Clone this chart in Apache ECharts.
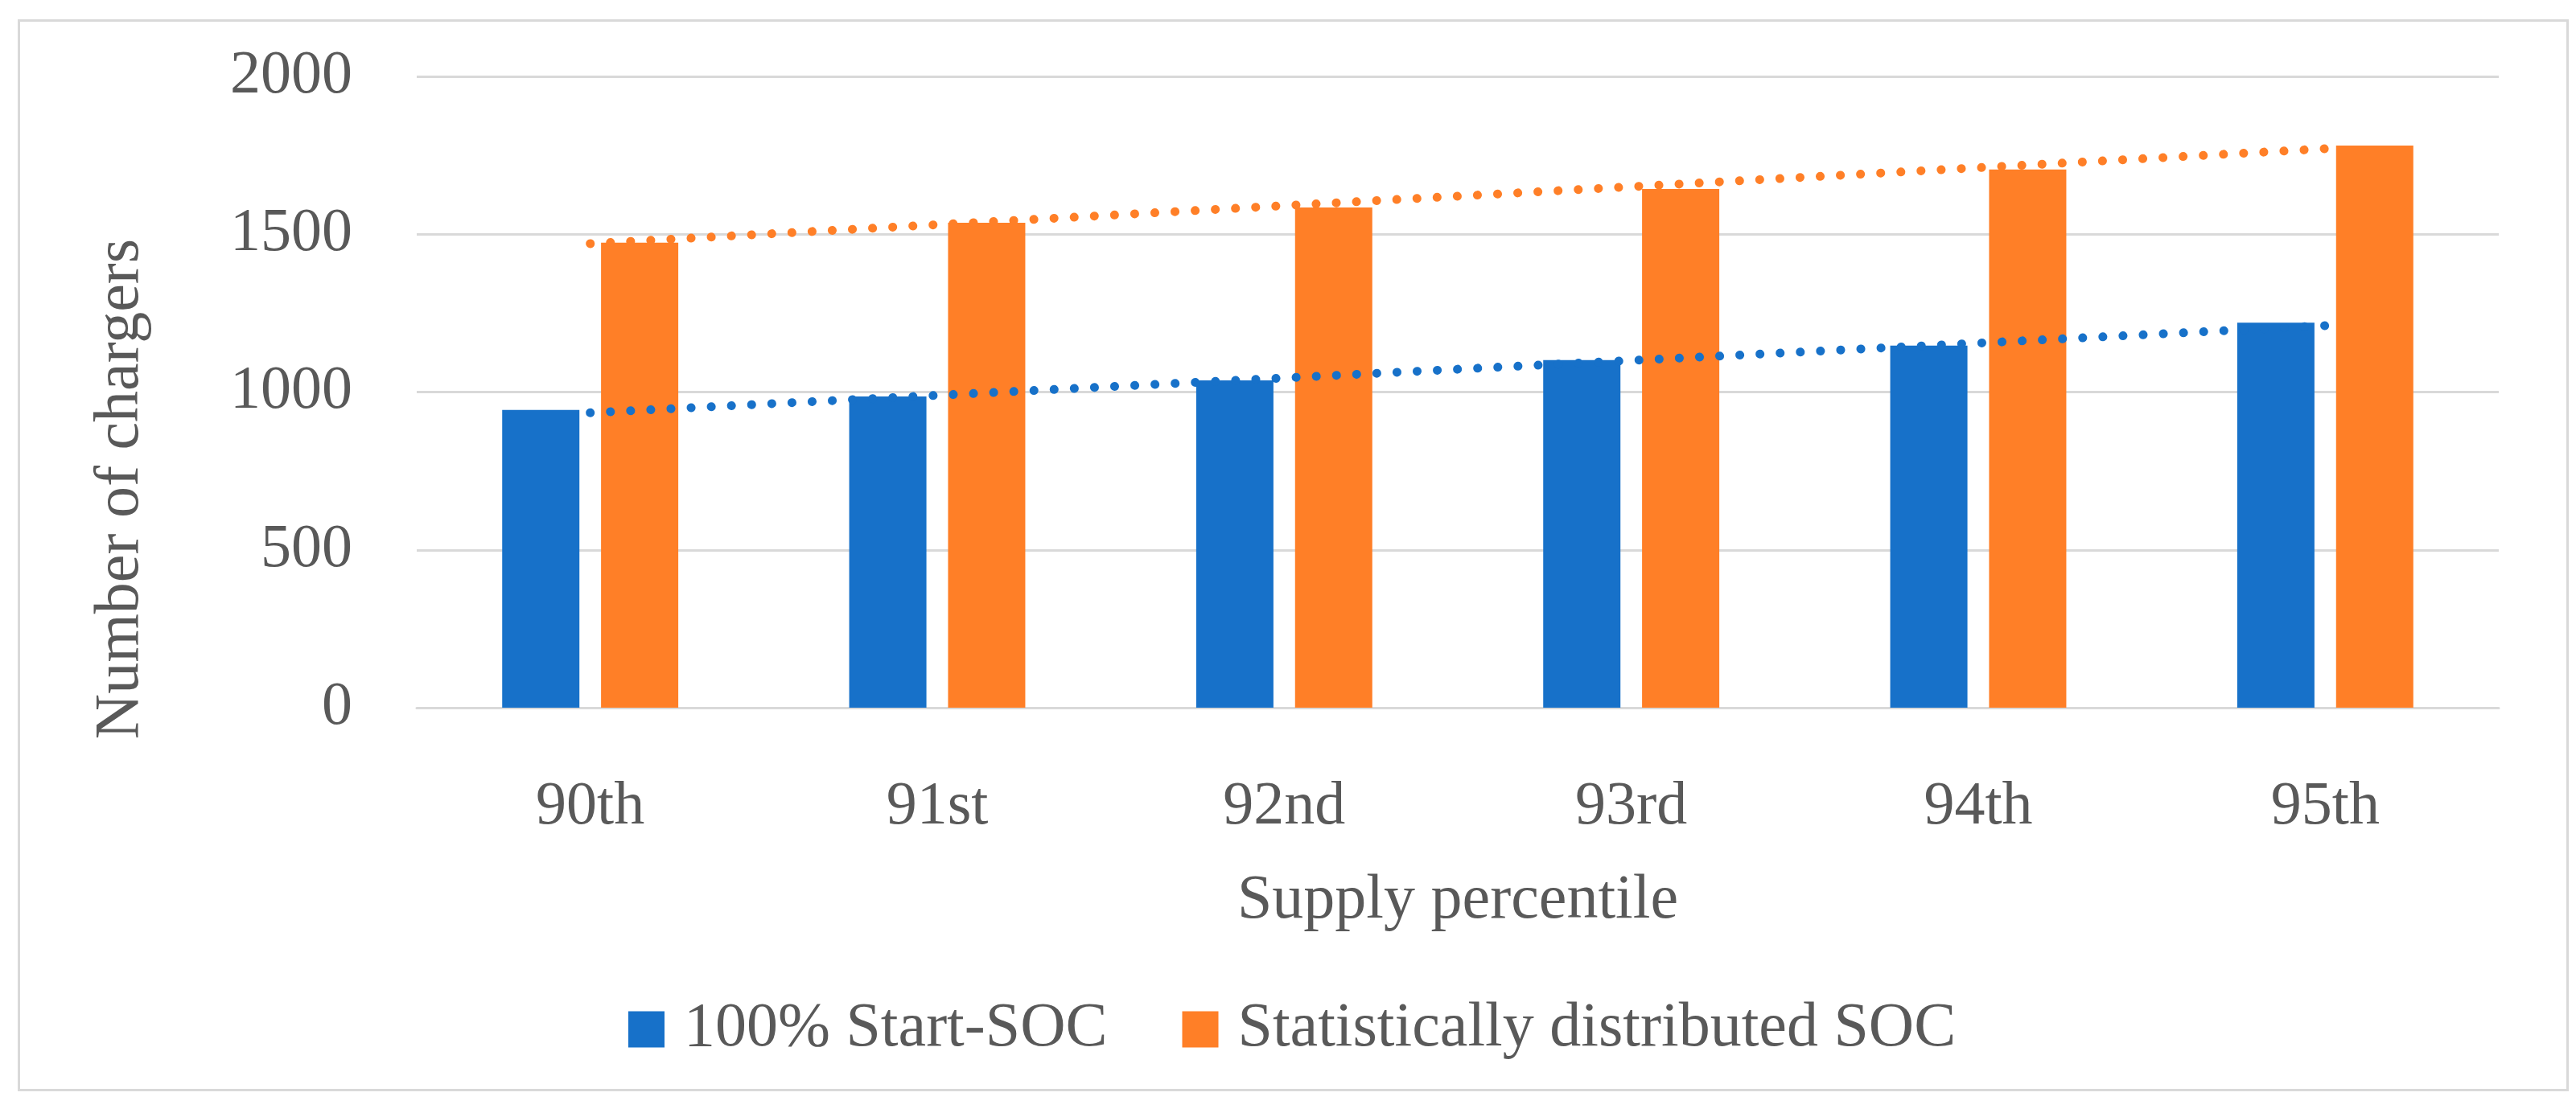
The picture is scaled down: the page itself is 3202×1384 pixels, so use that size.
<!DOCTYPE html>
<html>
<head>
<meta charset="utf-8">
<script src="https://cdn.jsdelivr.net/npm/echarts@6/dist/echarts.min.js"></script>
<style>
html,body{margin:0;padding:0;background:#ffffff;}
#chart{width:3202px;height:1384px;}
</style>
</head>
<body>
<div id="chart"></div>
<script>
const categories = ['90th', '91st', '92nd', '93rd', '94th', '95th'];
const startSoc100 = [943, 986, 1037, 1101, 1147, 1220];
const statSoc = [1473, 1536, 1585, 1643, 1705, 1781];
const seriesNames = ['100% Start-SOC', 'Statistically distributed SOC'];
const yTicks = [0, 500, 1000, 1500, 2000];
const xTitle = 'Supply percentile';
const yTitle = 'Number of chargers';

// Linear (least-squares) trendline, as in the original spreadsheet chart
function linearTrend(values) {
  const n = values.length;
  const mx = (n - 1) / 2;
  const my = values.reduce((a, b) => a + b, 0) / n;
  let sxy = 0, sxx = 0;
  values.forEach((v, i) => { sxy += (i - mx) * (v - my); sxx += (i - mx) * (i - mx); });
  const slope = sxy / sxx;
  return values.map((v, i) => my + slope * (i - mx));
}

const FONT = 'Liberation Serif';
const TXT = '#595959';
const BLUE = '#1771C9';
const ORANGE = '#FF7F27';
const GRID = '#D9D9D9';

const chart = echarts.init(document.getElementById('chart'), null, {renderer: 'canvas'});
chart.setOption({
  backgroundColor: '#ffffff',
  animation: false,
  textStyle: {fontFamily: FONT},
  grid: {left: 518, right: 96, top: 95, bottom: 504, containLabel: false},
  graphic: [
    {
      type: 'rect', left: 21, top: 23, z: -10,
      shape: {width: 3168, height: 1330},
      style: {fill: 'none', stroke: '#D9D9D9', lineWidth: 3}
    },
    {
      type: 'text', x: 151, y: 608, rotation: Math.PI / 2,
      style: {text: yTitle, font: '78px "' + FONT + '"', fill: TXT, textAlign: 'center', textVerticalAlign: 'middle'}
    }
  ],
  legend: {
    data: seriesNames,
    left: 776, top: 1236,
    icon: 'rect', itemWidth: 45, itemHeight: 45, itemGap: 93,
    textStyle: {fontFamily: FONT, fontSize: 78, color: TXT, padding: [0, 0, 0, 19]}
  },
  xAxis: {
    type: 'category',
    data: categories,
    axisTick: {show: false},
    axisLine: {show: true, lineStyle: {color: GRID, width: 3}},
    axisLabel: {fontFamily: FONT, fontSize: 76, color: TXT, margin: 86},
    name: xTitle, nameLocation: 'middle', nameGap: 202,
    nameTextStyle: {fontFamily: FONT, fontSize: 78, color: TXT}
  },
  yAxis: {
    type: 'value', min: yTicks[0], max: yTicks[yTicks.length - 1], interval: 500,
    axisLine: {show: false}, axisTick: {show: false},
    splitLine: {lineStyle: {color: GRID, width: 3}},
    axisLabel: {fontFamily: FONT, fontSize: 76, color: TXT, margin: 80, formatter: (v) => String(v)}
  },
  series: [
    {name: seriesNames[0], type: 'bar', data: startSoc100, barWidth: 96, barGap: '28%', itemStyle: {color: BLUE}},
    {name: seriesNames[1], type: 'bar', data: statSoc, barWidth: 96, barGap: '28%', itemStyle: {color: ORANGE}},
    {name: 'trend1', type: 'line', data: linearTrend(startSoc100), symbol: 'none', z: 5, silent: true,
     lineStyle: {color: BLUE, width: 11, type: [0.1, 25], cap: 'round'}},
    {name: 'trend2', type: 'line', data: linearTrend(statSoc), symbol: 'none', z: 5, silent: true,
     lineStyle: {color: ORANGE, width: 11, type: [0.1, 25], cap: 'round'}}
  ]
});
</script>
</body>
</html>
